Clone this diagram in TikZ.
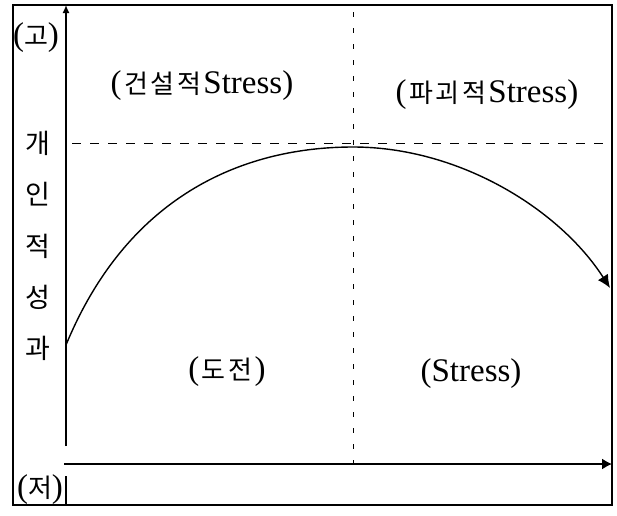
\documentclass[tikz,border=0pt]{standalone}
\usepackage{fontspec}
\setmainfont{Liberation Serif}
\newfontfamily\krfont{Noto Sans CJK KR}
\usetikzlibrary{arrows.meta}
\newcommand\kor[1]{{\krfont\fontsize{26}{30}\selectfont #1}}
\newcommand\ks{\kern2.5pt}
\begin{document}
\begin{tikzpicture}[x=1pt,y=-1pt,
  lbl/.style={inner sep=0pt, font=\fontsize{33}{38}\selectfont},
  vch/.style={inner sep=0pt, font=\krfont\fontsize{27}{30}\selectfont},
  frm/.style={line width=1.6pt},
  axis/.style={line width=1.4pt},
  guide/.style={line width=1pt, dash pattern=on 9pt off 9pt},
  vguide/.style={line width=1pt, dash pattern=on 5pt off 11pt},
  crv/.style={line width=1.4pt}]
\useasboundingbox (0,0) rectangle (617,515);
\fill[white] (0,0) rectangle (617,515);
% frame
\draw[frm] (13,5) rectangle (612,505);
% axes
\coordinate (yb) at (66,446);
\coordinate (yt) at (66,5);
\coordinate (xl) at (64,464);
\coordinate (xr) at (612,464);
\coordinate (tb) at (66,476);
\coordinate (tf) at (66,505);
\draw[axis,-{Latex[length=8pt,width=7pt]}] (yb) -- (yt);
\draw[axis,-{Latex[length=10pt,width=11pt]}] (xl) -- (xr);
\draw[axis] (tb) -- (tf);
% guides
\coordinate (vt) at (353,12);
\coordinate (vb) at (353,464);
\coordinate (hl) at (72,143);
\coordinate (hr) at (612,143);
\draw[vguide] (vt) -- (vb);
\draw[guide] (hl) -- (hr);
% curve
\coordinate (c0) at (66,345);
\coordinate (cp) at (353,147);
\coordinate (c1) at (610,288);
\draw[crv,-{Latex[length=13pt,width=12pt]}] (c0) .. controls (130,190) and (250,147) .. (cp)
  .. controls (460,147) and (560,210) .. (c1);
% labels
\node[lbl] (hi) at (36,38) {(\kor{고})};
\node[lbl] (lo) at (40,490) {(\kor{저})};
\node[lbl] (con) at (202,86) {(\ks\kor{건\ks 설\ks 적}\ks Stress)};
\node[lbl] (des) at (487,95) {(\ks\kor{파\ks 괴\ks 적}\ks Stress)};
\node[lbl] (chal) at (227,372) {(\ks\kor{도\ks 전}\ks)};
\node[lbl] (str) at (471,374) {(Stress)};
\node[vch] (v1) at (38,143) {개};
\node[vch] (v2) at (38,194) {인};
\node[vch] (v3) at (38,246) {적};
\node[vch] (v4) at (38,297) {성};
\node[vch] (v5) at (38,348) {과};
\end{tikzpicture}
\end{document}
